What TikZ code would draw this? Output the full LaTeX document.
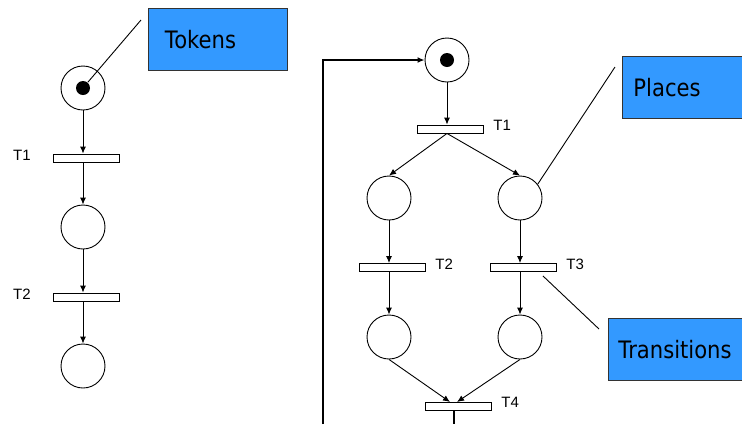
\documentclass[tikz,border=0pt]{standalone}
\usepackage{fontspec}
\setmainfont{Liberation Sans}
\newfontfamily\boxfont[FakeStretch=0.88]{DejaVu Sans}
\usetikzlibrary{arrows.meta,positioning}
\definecolor{boxblue}{RGB}{51,153,255}

\begin{document}
\begin{tikzpicture}[x=1pt,y=-1pt,>={Latex[length=7pt,width=6pt]},line width=0.9pt,
                    place/.style={draw,circle,minimum size=44pt,inner sep=0pt},
                    token/.style={circle,fill=black,minimum size=14pt,inner sep=0pt},
                    trans/.style={draw,rectangle,minimum width=66pt,minimum height=8pt,inner sep=0pt},
                    tlabel/.style={font=\fontsize{15}{18}\selectfont,inner sep=0pt},
                    callout/.style={draw=black!80,fill=boxblue,anchor=north west,align=left,
                                    minimum height=62pt,inner ysep=0pt,
                                    font=\boxfont\fontsize{24}{28}\selectfont},
                    loopline/.style={line width=1.6pt}]
  \clip (0,0) rectangle (742,424);

  % simple chain
  \node[place] (a1) at (83,88)  {};
  \node[token] (k1) at (a1)     {};
  \node[trans] (ta1) at (86.5,158) {};
  \node[place] (a2) at (83,227) {};
  \node[trans] (ta2) at (86.5,297) {};
  \node[place] (a3) at (83,366) {};

  \node[tlabel,left=22pt of ta1,yshift=3pt] {T1};
  \node[tlabel,left=22pt of ta2,yshift=3pt] {T2};

  \draw[->] (a1.south) -- (a1 |- ta1.north);
  \draw[->] (a1 |- ta1.south) -- (a2.north);
  \draw[->] (a2.south) -- (a2 |- ta2.north);
  \draw[->] (a2 |- ta2.south) -- (a3.north);

  % fork and join
  \node[place] (b0) at (447,60)  {};
  \node[token] (k2) at (b0)      {};
  \node[trans] (tb1) at (450.5,129) {};
  \node[place] (b1) at (389,198) {};
  \node[place] (b2) at (520,198) {};
  \node[trans] (tb2) at (392.5,267.5) {};
  \node[trans] (tb3) at (523.5,267.5) {};
  \node[place] (b3) at (389,337) {};
  \node[place] (b4) at (520,337) {};
  \node[trans] (tb4) at (458.5,406) {};

  \node[tlabel,right=9pt of tb1,yshift=3.5pt] {T1};
  \node[tlabel,right=9pt of tb2,yshift=3.5pt] {T2};
  \node[tlabel,right=9pt of tb3,yshift=3.5pt] {T3};
  \node[tlabel,right=9pt of tb4,yshift=3.5pt] {T4};

  \coordinate (join) at (454,402);
  \coordinate (out)  at (454,424);
  \coordinate (back) at (323,424);

  \draw[->] (b0.south) -- (b0 |- tb1.north);
  \draw[->] (b0 |- tb1.south) -- (b1.north);
  \draw[->] (b0 |- tb1.south) -- (b2.north);
  \draw[->] (b1.south) -- (b1 |- tb2.north);
  \draw[->] (b2.south) -- (b2 |- tb3.north);
  \draw[->] (b1 |- tb2.south) -- (b3.north);
  \draw[->] (b2 |- tb3.south) -- (b4.north);
  \draw[->] (b3.south) -- ([xshift=-4pt]join);
  \draw[->] (b4.south) -- ([xshift=3pt]join);

  \draw[loopline] (join |- tb4.south) -- (out);
  \draw[loopline,->] (back) |- (b0.west);

  % callouts
  \node[callout,text width=106pt,inner xsep=16.5pt] (tokens) at (148,8) {Tokens};
  \node[callout,text width=140pt,inner xsep=11pt] (places) at (622,56) {Places};
  \node[callout,text width=140pt,inner xsep=10pt] (transitions) at (608,318) {Transitions};

  \draw ([shift={(-7,12)}]tokens.north west) -- (k1.50);
  \draw ([shift={(-7,11)}]places.north west) -- (b2.38);
  \draw ([shift={(-9,11)}]transitions.north west) -- ([shift={(-14,4)}]tb3.south east);
\end{tikzpicture}
\end{document}
